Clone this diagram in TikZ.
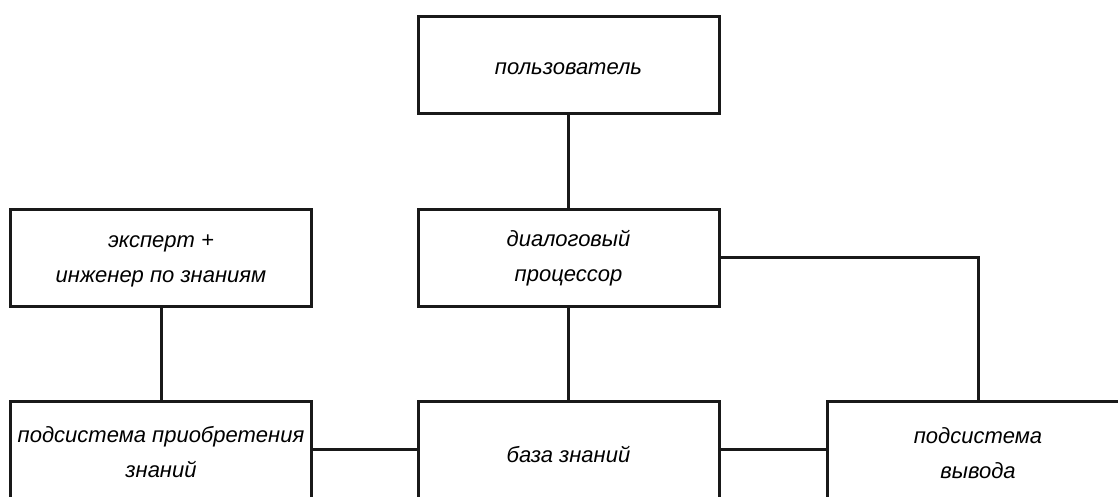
\documentclass[tikz,border=0pt]{standalone}
\usepackage{fontspec}
\setmainfont{Liberation Sans}
\begin{document}
\begin{tikzpicture}[x=1pt,y=-1pt,
  blk/.style={draw=black!90, line width=3pt, minimum width=301pt, minimum height=97pt,
    inner sep=0pt},
  txt/.style={inner sep=0pt, align=center, font=\fontsize{22}{35}\selectfont\itshape},
  link/.style={draw=black!90, line width=3pt}]
\useasboundingbox (0,0) rectangle (1118,496);
\node[blk] (user) at (568.5,64.5) {};
\node[blk] (dlg) at (568.5,257.5) {};
\node[blk] (exp) at (161,257.5) {};
\node[blk] (acq) at (161,449.5) {};
\node[blk] (kb) at (568.5,449.5) {};
\node[blk] (inf) at (978,449.5) {};
\node[txt] (userT) at ([yshift=-4]user.center) {пользователь};
\node[txt] (dlgT) at ([yshift=-1]dlg.center) {диалоговый\\процессор};
\node[txt] (expT) at ([yshift=-3]exp.center) {эксперт +\\инженер по знаниям};
\node[txt] (acqT) at ([yshift=-3]acq.center) {подсистема приобретения\\знаний};
\node[txt] (kbT) at ([yshift=-5]kb.center) {база знаний};
\node[txt] (infT) at ([yshift=-4]inf.center) {подсистема\\вывода};
\draw[link] (user.south) -- (dlg.north);
\draw[link] (dlg.south) -- (kb.north);
\draw[link] (exp.south) -- (acq.north);
\draw[link] (acq.east) -- (kb.west);
\draw[link] (kb.east) -- (inf.west);
\draw[link] (dlg.east) -| (inf.north);
\end{tikzpicture}
\end{document}
